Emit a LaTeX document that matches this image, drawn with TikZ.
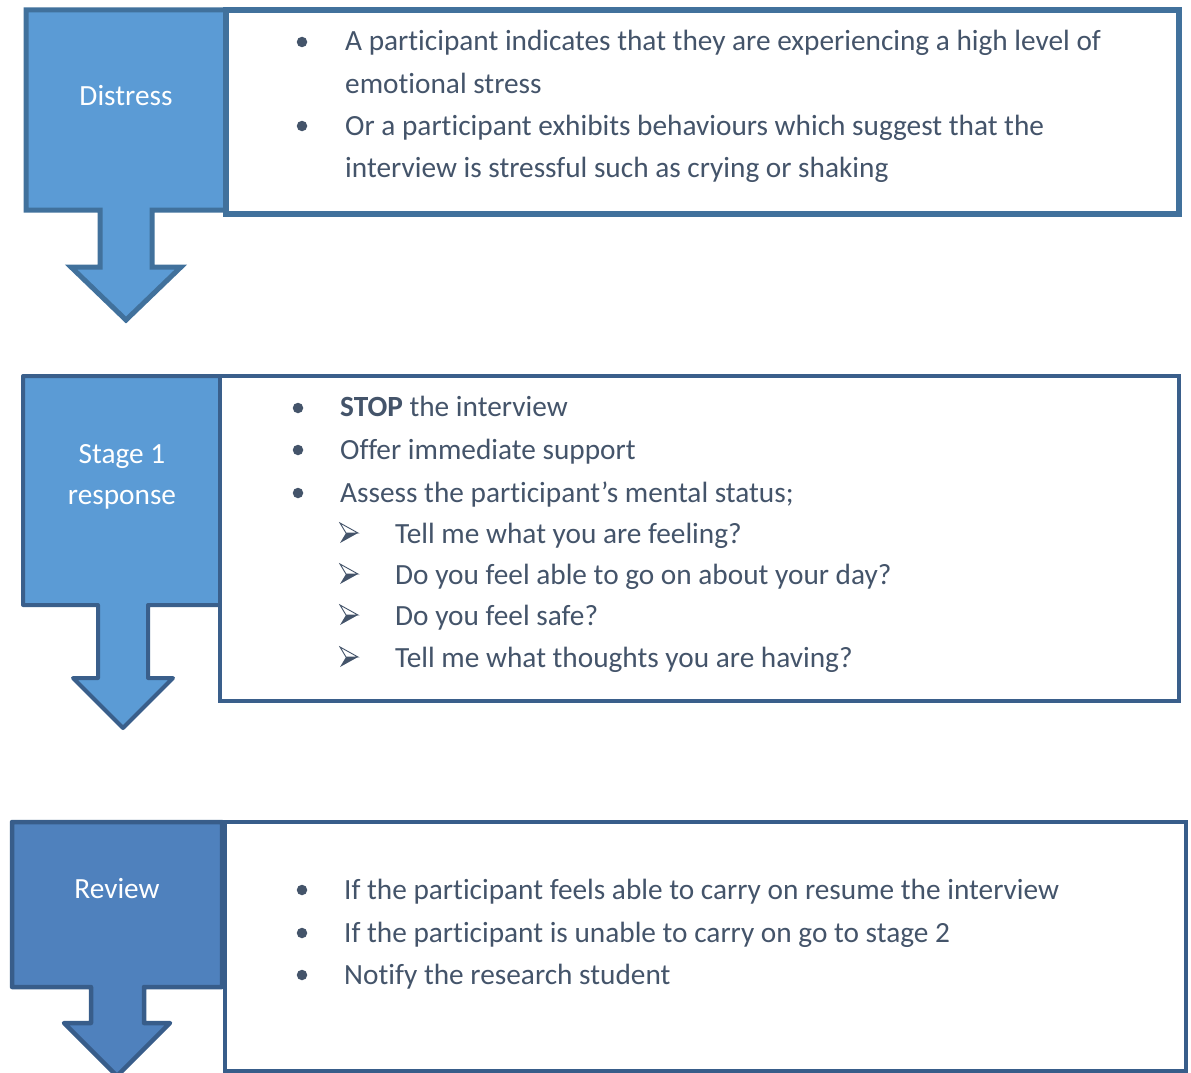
\documentclass[tikz,border=0pt]{standalone}
\usepackage{fontspec}
\setmainfont{Carlito}[Ligatures=NoCommon]
\definecolor{txt}{HTML}{44546A}
\definecolor{fillA}{HTML}{5B9BD5}
\definecolor{lineA}{HTML}{41719C}
\definecolor{lineB}{HTML}{3A5F8B}
\definecolor{fillC}{HTML}{4F81BD}
\definecolor{lineC}{HTML}{385D8A}
% arrowhead bullet: outlined upper half, filled lower half, centred on (#1,#2)
\newcommand\subhead[2]{%
  \fill[txt] (#1-3,#2) -- (#1+9,#2) -- (#1-9,#2+10) -- cycle;
  \draw[txt, line width=0.9pt, line join=miter] (#1-3,#2) -- (#1-9,#2-10) -- (#1+9,#2) -- cycle;}
\begin{document}
\begin{tikzpicture}[x=1pt,y=-1pt,
  every node/.style={font=\fontsize{29.3}{42}\selectfont},
  item/.style={anchor=base west, text=txt, inner sep=0pt},
  stagelabel/.style={anchor=base, text=white, inner sep=0pt},
  bul/.style={circle, fill=txt, minimum size=10.5pt, inner sep=0pt},
  panel/.style={fill=white, line join=miter}]
\useasboundingbox (0,0) rectangle (1191,1073);

% ---- Distress ----
\draw[fill=fillA, draw=lineA, line width=5pt, line join=miter]
  (26,10) -- (226,10) -- (226,210) -- (152,210) -- (152,267) -- (181,267)
  -- (126,320) -- (71,267) -- (100,267) -- (100,210) -- (26,210) -- cycle;
\draw[panel, draw=lineA, line width=5.5pt] (226,10) rectangle (1179,214);
\node[stagelabel] (lbl1) at (126,105) {Distress};
\node[bul] (d1) at (302,42) {};
\node[item] (t1a) at (345,51) {A participant indicates that they are experiencing a high level of};
\node[item] (t1b) at (345,93) {emotional stress};
\node[bul] (d2) at (302,126) {};
\node[item] (t1c) at (345,135) {Or a participant exhibits behaviours which suggest that the};
\node[item] (t1d) at (345,177) {interview is stressful such as crying or shaking};

% ---- Stage 1 response ----
\draw[fill=fillA, draw=lineB, line width=4pt, line join=round]
  (23,376) -- (220,376) -- (220,605) -- (148,605) -- (148,678) -- (173,678)
  -- (123,728) -- (73,678) -- (98,678) -- (98,605) -- (23,605) -- cycle;
\draw[panel, draw=lineB, line width=4pt] (220,376) rectangle (1179,701);
\node[stagelabel] (lbl2a) at (122,463) {Stage 1};
\node[stagelabel] (lbl2b) at (122,504) {response};
\node[bul] (s1) at (298,408) {};
\node[item] (t2a) at (340,416) {\textbf{STOP} the interview};
\node[bul] (s2) at (298,450) {};
\node[item] (t2b) at (340,459) {Offer immediate support};
\node[bul] (s3) at (298,493) {};
\node[item] (t2c) at (340,502) {Assess the participant’s mental status;};
\subhead{349}{533}
\node[item] (t2d) at (395,543) {Tell me what you are feeling?};
\subhead{349}{574}
\node[item] (t2e) at (395,584) {Do you feel able to go on about your day?};
\subhead{349}{615}
\node[item] (t2f) at (395,625) {Do you feel safe?};
\subhead{349}{657}
\node[item] (t2g) at (395,667) {Tell me what thoughts you are having?};

% ---- Review ----
\draw[fill=fillC, draw=lineC, line width=4.5pt, line join=round]
  (12,822) -- (222,822) -- (222,987) -- (144,987) -- (144,1023) -- (170,1023)
  -- (117,1076) -- (64,1023) -- (91,1023) -- (91,987) -- (12,987) -- cycle;
\draw[panel, draw=lineC, line width=4.5pt] (225,822) rectangle (1186,1071);
\node[stagelabel] (lbl3) at (117,898) {Review};
\node[bul] (r1) at (302,890) {};
\node[item] (t3a) at (344,899) {If the participant feels able to carry on resume the interview};
\node[bul] (r2) at (302,933) {};
\node[item] (t3b) at (344,942) {If the participant is unable to carry on go to stage 2};
\node[bul] (r3) at (302,975) {};
\node[item] (t3c) at (344,984) {Notify the research student};
\end{tikzpicture}
\end{document}
